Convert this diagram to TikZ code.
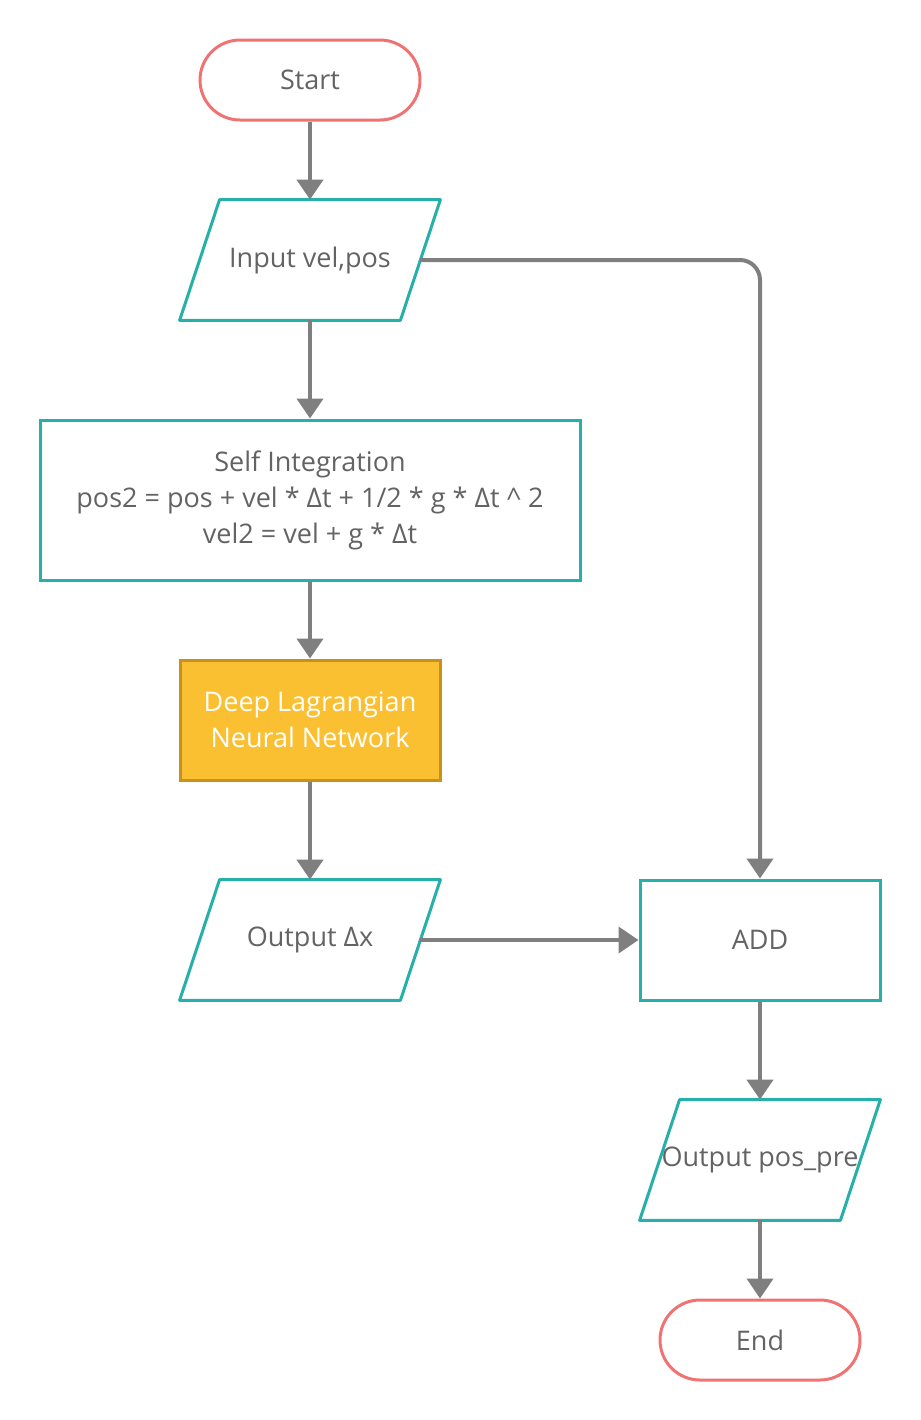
\documentclass[tikz,border=0pt]{standalone}
\usepackage{fontspec}
\setmainfont{Open Sans}
\usepackage{tikz}
\usetikzlibrary{arrows.meta,positioning,calc}
\definecolor{fcteal}{HTML}{26B0A9}
\definecolor{fcred}{HTML}{F07373}
\definecolor{fcgray}{HTML}{7F7F7F}
\definecolor{fctext}{HTML}{636363}
\definecolor{fcgold}{HTML}{FBBF32}
\definecolor{fcgoldline}{HTML}{C8911E}

\begin{document}
\begin{tikzpicture}[
  x=0.5pt,
  y=-0.5pt,
  font=\fontsize{13.5pt}{18pt}\selectfont,
  terminal/.style={rectangle, rounded corners=20pt, draw=fcred, line width=1.5pt, fill=white, text=fctext, minimum width=110pt, minimum height=40pt, align=center},
  io/.style={rectangle, text=fctext, minimum width=110pt, minimum height=60pt, inner sep=0pt, align=center},
  iobox/.style={draw=fcteal, line width=1.5pt, line join=round},
  process/.style={rectangle, draw=fcteal, line width=1.5pt, fill=white, text=fctext, align=center},
  nnbox/.style={rectangle, draw=fcgoldline, line width=1.5pt, fill=fcgold, text=white, align=center},
  flow/.style={-{Triangle[length=10pt, width=13pt]}, line width=2pt, draw=fcgray}
]
  \useasboundingbox (0,0) rectangle (921,1420);

  \node[terminal] (start) at (310,80) {Start};
  \node[io] (input) at (310,260) {Input vel,pos};
  \node[process, minimum width=270pt, minimum height=80pt] (selfint) at (310,500) {Self Integration\\pos2 = pos + vel * Δt + 1/2 * g * Δt \textasciicircum{} 2\\vel2 = vel + g * Δt};
  \node[nnbox, minimum width=130pt, minimum height=60pt] (dlnn) at (310,720) {Deep Lagrangian\\Neural Network};
  \node[io] (outdx) at (310,940) {Output Δx};
  \node[process, minimum width=120pt, minimum height=60pt] (add) at (760,940) {ADD};
  \node[io, minimum width=100pt] (outpos) at (760,1160) {\makebox[0pt]{Output pos\_pre}};
  \node[terminal, minimum width=100pt] (end) at (760,1340) {End};

  % slanted input/output boxes
  \foreach \n in {input,outdx,outpos}
    \draw[iobox] ($(\n.north west)+(20,0)$) -- ($(\n.north east)+(20,0)$)
      -- ($(\n.south east)+(-20,0)$) -- ($(\n.south west)+(-20,0)$) -- cycle;

  \draw[flow] (start) -- (input);
  \draw[flow] (input) -- (selfint);
  \draw[flow] (selfint) -- (dlnn);
  \draw[flow] (dlnn) -- (outdx);
  \draw[flow, rounded corners=10pt] (input.east) -| (add.north);
  \draw[flow] (outdx.east) -- (add.west);
  \draw[flow] (add) -- (outpos);
  \draw[flow] (outpos) -- (end);
\end{tikzpicture}
\end{document}
